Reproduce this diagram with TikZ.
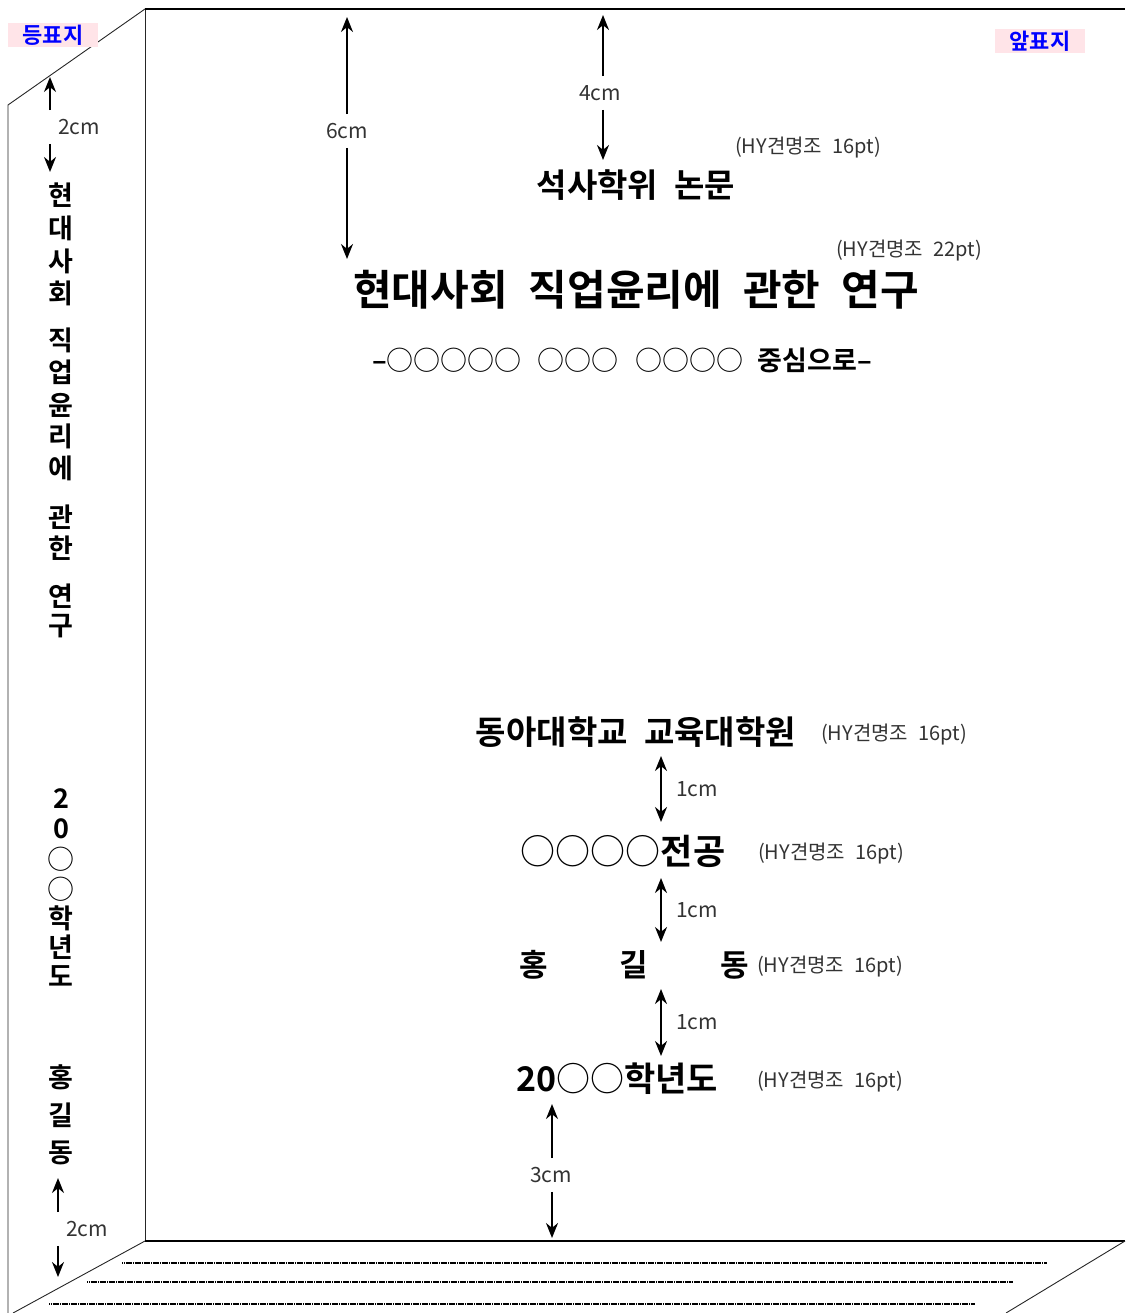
\documentclass[tikz,border=0pt]{standalone}
\usepackage{fontspec}
\setmainfont{Noto Sans CJK KR}[BoldFont={Noto Sans CJK KR Bold}]
\usepackage{tikz}
\usetikzlibrary{arrows.meta}
\definecolor{tagpink}{RGB}{255, 228, 232}
\definecolor{notegray}{RGB}{51, 51, 51}
\newcommand{\wsp}{\hspace{0.5em}}

\begin{document}
\begin{tikzpicture}[x=1pt, y=-1pt,
  thinedge/.style={line width=0.9pt, black!85},
  thickedge/.style={line width=1.6pt},
  rule/.style={line width=2pt, dash pattern=on 1.4pt off 0.4pt},
  dimarrow/.style={-{Stealth[length=15pt, width=12pt]}, line width=2pt},
  dimboth/.style={{Stealth[length=15pt, width=12pt]}-{Stealth[length=15pt, width=12pt]}, line width=2pt},
  dimlabel/.style={font=\fontsize{21}{24}\selectfont, text=notegray, inner xsep=1pt, inner ysep=9pt},
  ptlabel/.style={font=\fontsize{20}{24}\selectfont, text=notegray, anchor=west, inner sep=0pt},
  headtext/.style={font=\bfseries\fontsize{#1}{#1}\selectfont, inner sep=0pt},
  tag/.style={fill=tagpink, text=blue, font=\bfseries\fontsize{22}{24}\selectfont,
    minimum width=90pt, minimum height=24pt, inner sep=0pt},
  spinechar/.style={font=\bfseries\fontsize{27}{27}\selectfont, inner sep=0pt}]
\useasboundingbox (0,0) rectangle (1125,1313);

% book outline
\draw[thinedge] (8,1313) -- (8,105) -- (145,9);
\draw[thinedge] (145,9) -- (145,1241);
\draw[thickedge] (145,9) -- (1125,9);
\draw[thickedge] (145,1241) -- (1125,1241);
\draw[thinedge] (145,1241) -- (13,1313);
\draw[thinedge] (1125,1241) -- (1006,1313);

% page edges
\draw[rule] (122,1263) -- (1047,1263);
\draw[rule] (87,1282) -- (1013,1282);
\draw[rule] (49,1304) -- (975,1304);

% tags
\node[tag] (spinetag) at (53,35) {등표지};
\node[tag] (fronttag) at (1040,41) {앞표지};

% spine text
\foreach \c/\y [count=\i] in {현/195,대/228,사/261,회/293,직/340,업/372,윤/405,리/436,에/468,
    관/517,한/548,연/596,구/626,2/799,0/829,{\mdseries ○}/859,{\mdseries ○}/889,학/918,년/947,도/976,
    홍/1077,길/1115,동/1153}
  \node[spinechar] (sp\i) at (61,\y) {\c};

% front cover text
\node[headtext=33] (degree) at (636,185) {석사학위\wsp 논문};
\node[headtext=42] (title) at (636,290) {현대사회\wsp 직업윤리에\wsp 관한\wsp 연구};
\node[headtext=27] (subtitle) at (622,360) {–{\mdseries ○○○○○}\hspace{0.6em}{\mdseries ○○○}\hspace{0.6em}{\mdseries ○○○○}\hspace{0.55em}중심으로–};
\node[headtext=33] (school) at (636,732) {동아대학교\wsp 교육대학원};
\node[headtext=35] (major) at (623,851) {{\mdseries ○○○○}전공};
\node[headtext=31] (author) at (634,965) {홍\hspace{72pt}길\hspace{72pt}동};
\node[headtext=34] (year) at (617,1079) {20{\mdseries ○○}학년도};

% font notes
\node[ptlabel] (n1) at (735,148) {(HY견명조\hspace{10pt}16pt)};
\node[ptlabel] (n2) at (836,251) {(HY견명조\hspace{10pt}22pt)};
\node[ptlabel] (n3) at (821,735) {(HY견명조\hspace{10pt}16pt)};
\node[ptlabel] (n4) at (758,854) {(HY견명조\hspace{10pt}16pt)};
\node[ptlabel] (n5) at (757,967) {(HY견명조\hspace{10pt}16pt)};
\node[ptlabel] (n6) at (757,1082) {(HY견명조\hspace{10pt}16pt)};

% spacing marks
\coordinate (t6) at (347,17);
\coordinate (b6) at (347,259);
\node[dimlabel] (l6) at (347,131) {6cm};
\draw[dimarrow] (l6.north -| t6) -- (t6);
\draw[dimarrow] (l6.south -| b6) -- (b6);

\coordinate (t4) at (603,15);
\coordinate (b4) at (603,160);
\node[dimlabel] (l4) at (600,93) {4cm};
\draw[dimarrow] (l4.north -| t4) -- (t4);
\draw[dimarrow] (l4.south -| b4) -- (b4);

\coordinate (t3) at (552,1104);
\coordinate (b3) at (552,1238);
\node[dimlabel] (l3) at (551,1175) {3cm};
\draw[dimarrow] (l3.north -| t3) -- (t3);
\draw[dimarrow] (l3.south -| b3) -- (b3);

\coordinate (ts1) at (50,77);
\coordinate (bs1) at (50,172);
\node[dimlabel, anchor=west] (ls1) at (57,127) {2cm};
\draw[dimarrow] (ls1.north -| ts1) -- (ts1);
\draw[dimarrow] (ls1.south -| bs1) -- (bs1);

\coordinate (ts2) at (58,1178);
\coordinate (bs2) at (58,1277);
\node[dimlabel, anchor=west] (ls2) at (65,1229) {2cm};
\draw[dimarrow] (ls2.north -| ts2) -- (ts2);
\draw[dimarrow] (ls2.south -| bs2) -- (bs2);

\foreach \a/\b/\m [count=\i] in {756/822/789, 878/942/910, 989/1056/1022} {
  \coordinate (u\i) at (661,\a);
  \coordinate (d\i) at (661,\b);
  \draw[dimboth] (u\i) -- (d\i);
  \node[dimlabel, anchor=west] (lc\i) at (675,\m) {1cm};
}
\end{tikzpicture}
\end{document}
